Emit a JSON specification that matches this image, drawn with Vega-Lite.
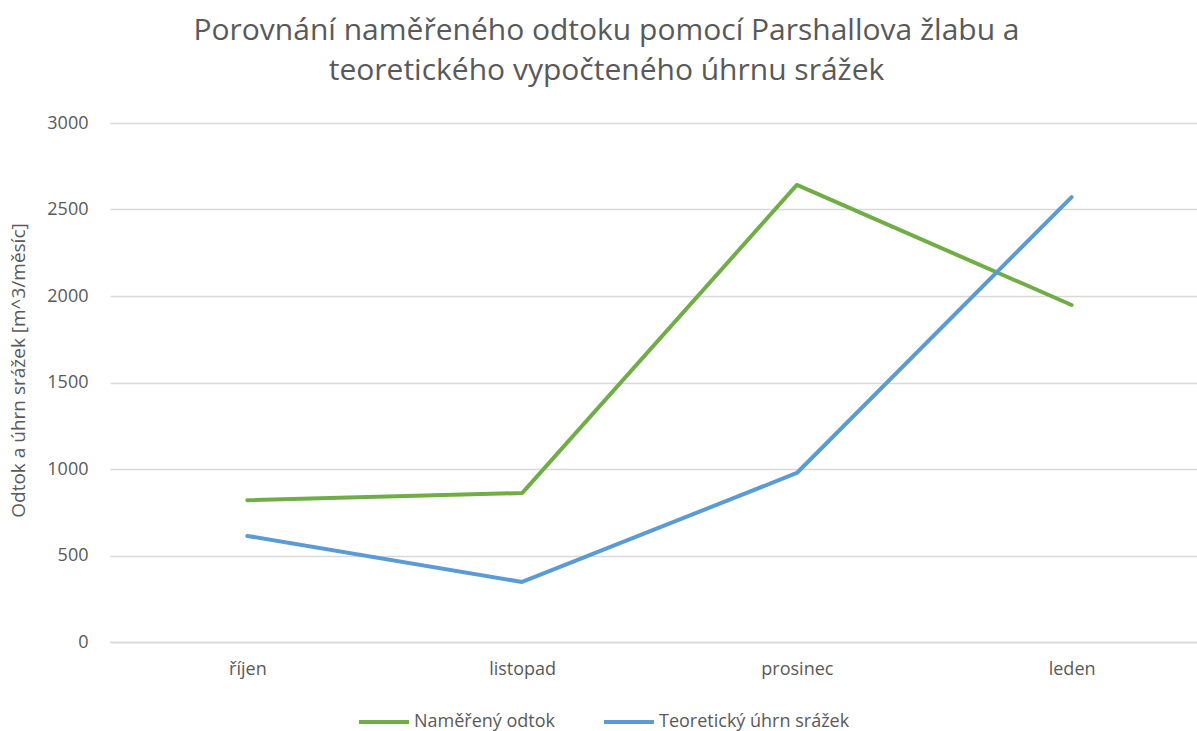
{
  "$schema": "https://vega.github.io/schema/vega-lite/v6.json",
  "width": 1099,
  "height": 519,
  "autosize": {"type": "none"},
  "padding": {"left": 110, "top": 123, "right": 0, "bottom": 89},
  "background": "white",
  "title": {
    "text": ["Porovnání naměřeného odtoku pomocí Parshallova žlabu a", "teoretického vypočteného úhrnu srážek"],
    "font": "Open Sans",
    "fontSize": 30,
    "fontWeight": "normal",
    "color": "#595959",
    "anchor": "middle",
    "dx": -53,
    "offset": 28,
    "lineHeight": 40
  },
  "data": {
    "values": [
      {"mesic": "říjen", "rada": "Naměřený odtok", "hodnota": 820},
      {"mesic": "listopad", "rada": "Naměřený odtok", "hodnota": 861},
      {"mesic": "prosinec", "rada": "Naměřený odtok", "hodnota": 2642},
      {"mesic": "leden", "rada": "Naměřený odtok", "hodnota": 1948},
      {"mesic": "říjen", "rada": "Teoretický úhrn srážek", "hodnota": 613},
      {"mesic": "listopad", "rada": "Teoretický úhrn srážek", "hodnota": 347},
      {"mesic": "prosinec", "rada": "Teoretický úhrn srážek", "hodnota": 977},
      {"mesic": "leden", "rada": "Teoretický úhrn srážek", "hodnota": 2572}
    ]
  },
  "mark": {"type": "line", "strokeWidth": 4, "strokeCap": "round", "strokeJoin": "round"},
  "encoding": {
    "x": {
      "field": "mesic",
      "type": "nominal",
      "sort": ["říjen", "listopad", "prosinec", "leden"],
      "scale": {"type": "point", "padding": 0.5},
      "axis": {
        "title": null,
        "labelAngle": 0,
        "labelFont": "Open Sans",
        "labelFontSize": 18,
        "labelColor": "#595959",
        "labelPadding": 18,
        "ticks": false,
        "domain": true,
        "domainColor": "#d9d9d9",
        "domainWidth": 1.5,
        "grid": false
      }
    },
    "y": {
      "field": "hodnota",
      "type": "quantitative",
      "scale": {"domain": [0, 3000], "nice": false},
      "axis": {
        "values": [0, 500, 1000, 1500, 2000, 2500, 3000],
        "format": "d",
        "title": "Odtok a úhrn srážek [m^3/měsíc]",
        "titleFont": "Open Sans",
        "titleFontSize": 19,
        "titleFontWeight": "normal",
        "titleColor": "#595959",
        "titleX": -82,
        "titleY": 247,
        "labelFont": "Open Sans",
        "labelFontSize": 18,
        "labelColor": "#595959",
        "labelPadding": 22,
        "ticks": false,
        "domain": false,
        "grid": true,
        "gridColor": "#d9d9d9",
        "gridWidth": 1.5
      }
    },
    "color": {
      "field": "rada",
      "type": "nominal",
      "scale": {"domain": ["Naměřený odtok", "Teoretický úhrn srážek"], "range": ["#70AD47", "#5B9BD5"]},
      "legend": {
        "title": null,
        "orient": "none",
        "direction": "horizontal",
        "legendX": 247,
        "legendY": 572,
        "symbolType": "stroke",
        "symbolSize": 2500,
        "symbolStrokeWidth": 4,
        "labelFont": "Open Sans",
        "labelFontSize": 18,
        "labelColor": "#595959",
        "labelOffset": 3,
        "labelLimit": 0,
        "columnPadding": 40
      }
    }
  },
  "config": {"view": {"stroke": null}}
}
